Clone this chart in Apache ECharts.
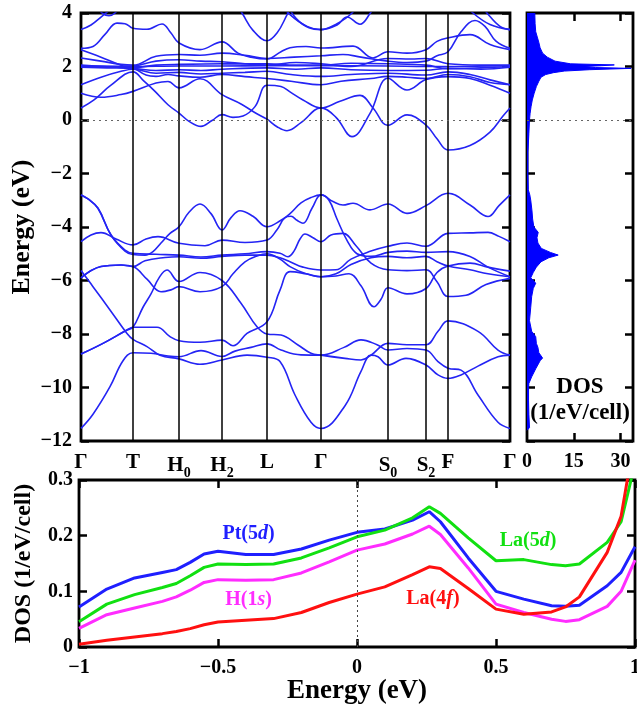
<!DOCTYPE html>
<html>
<head>
<meta charset="utf-8">
<script src="https://cdn.jsdelivr.net/npm/echarts@6/dist/echarts.min.js"></script>
<style>
  html, body { margin: 0; padding: 0; background: #fff; }
  #chart { width: 637px; height: 704px; }
</style>
</head>
<body>
<div id="chart"></div>
<script>
// k-path positions of the high-symmetry points and their labels
const kTicks = [0, 52, 98, 141, 186, 240, 307, 345, 367, 429];
const kLabels = ['Γ', 'T', 'H{s|0}', 'H{s|2}', 'L', 'Γ', 'S{s|0}', 'S{s|2}', 'F', 'Γ'];

// valence bands [k, E]
const bandA = [[0,-11.53],[12,-11.0],[29,-9.97],[42,-9.0],[52,-8.7],[70,-8.72],[87,-8.82],[98,-8.85],[120,-8.62],[141,-8.84],[154,-8.64],[170,-8.5],[186,-8.37],[200,-8.6],[220,-8.78],[240,-8.79],[263,-8.5],[280,-8.22],[296,-8.4],[307,-8.6],[326,-8.54],[345,-8.6],[357,-9.03],[367,-9.28],[380,-9.35],[397,-10.28],[417,-11.3],[429,-11.53]];
const bandB = [[0,-8.75],[22,-8.35],[46,-7.85],[52,-7.75],[76,-7.75],[89,-8.1],[98,-8.25],[119,-8.31],[141,-8.23],[152,-8.44],[166,-7.98],[186,-7.54],[199,-6.36],[209,-5.67],[225,-5.75],[240,-5.86],[255,-5.75],[270,-5.4],[290,-5.15],[307,-5.1],[326,-5.15],[345,-5.1],[356,-5.3],[367,-5.46],[389,-5.6],[407,-5.75],[429,-5.86]];
const bandC = [[0,-5.63],[12,-6.23],[29,-7.1],[46,-7.98],[52,-8.2],[66,-8.47],[79,-8.79],[98,-8.93],[119,-9.13],[141,-8.97],[166,-8.79],[186,-8.87],[199,-9.03],[214,-10.28],[230,-11.3],[240,-11.53],[264,-10.68],[280,-9.4],[290,-8.79],[297,-8.85],[307,-9.16],[325,-8.91],[345,-9.16],[357,-9.53],[367,-9.66],[380,-9.53],[397,-9.2],[417,-8.85],[429,-8.79]];
const bandE = [[0,-8.75],[22,-8.35],[46,-7.85],[52,-7.75],[62,-7.0],[70,-6.5],[78,-5.9],[86,-5.61],[98,-6.04],[119,-5.7],[141,-6.0],[160,-6.85],[176,-7.73],[186,-8.0],[200,-8.04],[217,-8.41],[230,-8.72],[240,-8.79],[264,-8.91],[280,-8.97],[290,-8.79],[307,-8.35],[326,-8.4],[345,-8.4],[357,-7.9],[367,-7.51],[397,-7.9],[417,-8.6],[429,-8.79]];
const bandG = [[0,-5.9],[20,-5.48],[40,-5.42],[52,-5.48],[66,-5.95],[80,-6.42],[90,-6.35],[98,-6.23],[119,-6.42],[141,-6.23],[152,-5.75],[164,-5.3],[176,-5.08],[186,-5.0],[199,-5.2],[209,-5.48],[225,-5.75],[240,-5.86],[255,-5.83],[268,-5.75],[280,-6.2],[293,-6.98],[300,-6.7],[307,-6.27],[326,-6.5],[345,-6.3],[356,-5.7],[367,-5.46],[389,-5.35],[407,-5.5],[429,-5.65]];
const bandV3 = [[0,-5.9],[20,-5.48],[40,-5.42],[52,-5.48],[64,-5.26],[84,-5.14],[98,-5.11],[120,-5.17],[141,-5.1],[164,-5.05],[186,-5.05],[199,-5.15],[209,-5.3],[222,-5.5],[240,-5.61],[255,-5.6],[270,-5.2],[290,-4.9],[307,-4.72],[326,-4.6],[345,-4.72],[367,-4.24],[389,-4.22],[407,-4.2],[418,-4.35],[429,-4.55]];
const bandV1 = [[0,-2.8],[7,-2.95],[17,-3.3],[30,-4.3],[44,-4.86],[52,-4.98],[75,-5.02],[98,-5.05],[120,-5.12],[141,-5.05],[164,-5.0],[186,-4.92],[199,-4.98],[207,-5.11],[213,-4.9],[219,-4.45],[224,-4.26],[232,-4.4],[240,-4.55],[250,-4.3],[262,-4.24],[275,-4.7],[290,-5.35],[307,-5.6],[326,-5.63],[345,-5.6],[356,-6.05],[367,-6.6],[385,-6.55],[405,-6.15],[429,-5.92]];
const bandP = [[0,-2.8],[7,-2.95],[17,-3.3],[30,-4.3],[44,-4.9],[52,-5.03],[64,-5.05],[72,-4.92],[80,-4.6],[89,-4.24],[98,-3.99],[108,-3.45],[119,-3.14],[130,-3.5],[141,-4.11],[150,-3.65],[159,-3.39],[172,-3.6],[186,-3.99],[200,-3.75],[209,-3.5],[220,-3.1],[230,-2.9],[240,-2.8],[252,-3.05],[262,-3.18],[272,-3.11],[289,-3.36],[307,-3.14],[326,-3.49],[345,-3.2],[367,-2.74],[389,-3.18],[407,-3.61],[418,-3.2],[429,-2.8]];
const bandV2 = [[0,-4.55],[10,-4.3],[20,-4.21],[35,-4.45],[52,-4.67],[65,-4.45],[77,-4.36],[98,-4.61],[124,-4.7],[141,-4.49],[164,-4.58],[186,-4.49],[196,-4.1],[204,-3.65],[210,-3.6],[216,-3.75],[222,-3.86],[231,-3.3],[240,-2.8],[248,-3.0],[256,-3.7],[266,-4.5],[276,-5.0],[290,-5.1],[307,-4.95],[326,-4.9],[345,-4.95],[367,-4.92],[389,-5.1],[407,-5.5],[429,-5.86]];

// conduction bands [k, E]
const bandC1 = [[0,0.45],[13,0.75],[30,1.3],[52,1.8],[63,1.45],[74,1.07],[87,0.57],[98,0.26],[108,-0.05],[120,-0.24],[131,-0.02],[141,0.2],[152,0.1],[162,0.15],[174,0.5],[186,1.3],[200,1.25],[209,1.05],[222,0.75],[240,0.45],[259,0.7],[279,0.92],[292,0.45],[307,-0.2],[326,0.19],[345,-0.19],[356,-0.7],[367,-1.12],[389,-0.95],[409,-0.45],[422,0.15],[429,0.45]];
const bandC2 = [[0,1.0],[20,0.85],[40,0.95],[52,1.07],[75,1.38],[87,1.44],[98,1.2],[119,1.54],[141,0.95],[160,0.6],[175,0.25],[186,0.03],[196,-0.25],[206,-0.4],[220,-0.1],[240,0.45],[255,0.1],[271,-0.62],[289,0.25],[307,1.56],[326,1.12],[345,1.51],[367,1.62],[389,1.55],[409,1.3],[429,1.0]];
const bandC3 = [[0,1.32],[20,1.6],[40,1.82],[52,1.9],[75,1.75],[98,1.78],[120,1.72],[141,1.75],[164,1.78],[186,1.82],[210,1.7],[240,1.63],[270,1.7],[307,1.75],[345,1.68],[367,1.8],[389,1.7],[409,1.5],[429,1.32]];
const bandF1 = [[0,2.03],[52,2.0],[98,2.02],[141,2.02],[186,2.03],[240,2.03],[307,2.02],[345,2.0],[367,2.0],[429,2.03]];
const bandF2 = [[0,2.0],[26,1.98],[52,1.96],[75,2.05],[98,2.08],[141,2.1],[186,2.1],[215,2.05],[240,2.05],[270,2.12],[307,2.1],[345,2.05],[367,1.92],[400,1.95],[429,2.0]];
const bandF3 = [[0,1.97],[26,1.95],[52,1.93],[75,1.85],[98,1.88],[120,1.85],[141,1.9],[186,1.95],[215,1.9],[240,1.95],[270,1.88],[307,1.85],[345,1.86],[367,1.93],[400,1.9],[429,1.97]];
const bandF4 = [[0,2.05],[26,2.0],[52,2.02],[75,2.2],[98,2.25],[120,2.2],[141,2.18],[164,2.1],[186,2.05],[215,2.15],[240,2.1],[270,2.0],[307,2.3],[330,2.28],[345,2.3],[367,2.1],[400,2.05],[429,2.05]];
const bandL2 = [[0,2.63],[20,2.35],[40,2.05],[52,1.95],[65,1.68],[75,1.63],[87,1.7],[98,1.65],[119,1.6],[141,1.7],[164,1.62],[186,1.55],[210,1.45],[240,1.32],[260,1.45],[290,1.55],[307,1.63],[326,1.6],[345,1.55],[367,1.7],[389,1.62],[409,1.4],[429,1.32]];
const bandU1 = [[0,2.32],[20,2.2],[40,2.08],[52,2.05],[75,2.38],[98,2.45],[119,2.42],[141,2.5],[164,2.42],[186,2.3],[213,2.35],[240,2.4],[262,2.45],[280,2.35],[307,2.2],[326,2.15],[345,2.2],[356,2.4],[367,2.55],[380,3.3],[394,3.72],[404,3.5],[415,2.95],[429,2.68]];
const bandT3 = [[0,2.68],[12,2.75],[24,3.2],[36,3.62],[44,3.6],[52,3.43],[66,3.39],[81,3.59],[90,3.25],[98,2.88],[119,2.63],[141,2.92],[157,2.5],[170,2.35],[186,2.28],[200,2.55],[209,2.7],[225,2.75],[240,2.69],[272,2.76],[292,2.32],[307,2.55],[326,2.5],[345,2.63],[356,2.94],[367,3.07],[389,3.19],[409,2.82],[429,2.63]];
const bandT1 = [[0,3.38],[10,3.55],[20,3.85],[28,4.1],[40,4.6]];
const bandT2 = [[14,4.4],[21,4.0],[28,3.9],[34,4.0],[42,4.4]];
const bandT5 = [[150,4.6],[161,4.0],[172,3.35],[186,2.96],[196,3.25],[206,3.93],[214,4.5]];
const bandT4a = [[196,4.5],[209,3.94],[226,3.5],[240,3.38],[256,3.6],[271,4.0],[280,4.5]];
const bandT4b = [[205,4.4],[215,3.8],[228,3.45],[240,3.38],[256,3.55],[266,3.85],[279,3.58],[289,3.98],[296,4.4]];
const bandT6a = [[380,4.5],[392,4.0],[409,3.57],[429,3.38]];
const bandT6b = [[396,4.5],[406,4.0],[419,3.5],[429,3.38]];

const bands = [bandA, bandB, bandC, bandE, bandG, bandV3, bandV1, bandP, bandV2,
  bandC1, bandC2, bandC3, bandF1, bandF2, bandF3, bandF4, bandL2, bandU1, bandT3,
  bandT1, bandT2, bandT5, bandT4a, bandT4b, bandT6a, bandT6b];

// total DOS (1/eV/cell) against energy (eV)
const dosE = [-11.6,-11.5,-11.0,-10.5,-10.0,-9.85,-9.6,-9.3,-9.0,-8.9,-8.7,-8.5,-8.35,-8.1,-7.9,-7.5,-7.0,-6.6,-6.3,-6.1,-5.9,-5.7,-5.5,-5.3,-5.15,-5.05,-4.95,-4.8,-4.6,-4.4,-4.2,-4.0,-3.7,-3.4,-3.0,-2.8,-2.6,-2.0,-1.2,-0.5,0,0.25,0.5,0.75,1.0,1.25,1.45,1.6,1.7,1.77,1.83,1.88,1.93,1.96,2.0,2.03,2.06,2.1,2.2,2.35,2.5,2.7,2.9,3.1,3.3,3.6,4.0];
const dosV = [0,0.8,0.6,0.5,0.5,0.6,1.5,2.8,4.2,5.0,3.8,3.5,3.0,2.8,1.5,0.8,1.2,1.5,2.0,2.8,1.2,2.0,3.0,4.5,7.0,10.0,7.5,4.6,3.5,3.2,3.6,2.2,1.8,1.6,1.2,0.9,0.4,0.3,0.3,0.6,0.8,1.0,1.3,1.7,2.3,3.0,3.8,4.5,6.0,8.5,12,20,33.4,22,18,24,28,14,9,6.5,5.0,4.2,3.8,3.3,2.8,2.6,2.5];

// projected DOS near the Fermi level
const pdosE = [-1,-0.9,-0.8,-0.7,-0.65,-0.6,-0.55,-0.5,-0.4,-0.3,-0.2,-0.1,0,0.1,0.2,0.26,0.3,0.4,0.5,0.6,0.7,0.75,0.8,0.9,0.95,1.0];
const pt5d = [0.072,0.104,0.124,0.134,0.139,0.152,0.167,0.172,0.166,0.166,0.176,0.192,0.206,0.212,0.228,0.243,0.225,0.16,0.1,0.086,0.074,0.073,0.075,0.11,0.134,0.18];
const la5d = [0.0455,0.077,0.094,0.107,0.114,0.128,0.143,0.149,0.148,0.149,0.16,0.178,0.198,0.21,0.232,0.252,0.24,0.196,0.155,0.157,0.148,0.146,0.149,0.188,0.225,0.33];
const h1s = [0.0335,0.058,0.07,0.082,0.09,0.102,0.116,0.121,0.12,0.121,0.133,0.153,0.174,0.185,0.203,0.217,0.202,0.142,0.077,0.062,0.05,0.046,0.049,0.073,0.1,0.156];
const la4f = [0.005,0.012,0.018,0.024,0.028,0.033,0.04,0.045,0.048,0.051,0.062,0.08,0.095,0.108,0.13,0.144,0.141,0.105,0.068,0.059,0.063,0.072,0.09,0.17,0.235,0.38];

const FONT = 'Liberation Serif';
const txt = { fontFamily: FONT, fontWeight: 'bold', color: '#000' };
const tick = { show: true, inside: true, length: 8, lineStyle: { color: '#000', width: 2.5 } };
const noLine = { show: false, onZero: false };
const bandColor = '#2424f4';
const minus = (v) => String(v).replace('-', '\u2212');

const chart = echarts.init(document.getElementById('chart'), null, { renderer: 'canvas' });

const bandSeries = bands.map((b, i) => ({
  type: 'line',
  xAxisIndex: 0,
  yAxisIndex: 0,
  data: b,
  symbol: 'none',
  smooth: 0.4,
  lineStyle: { color: bandColor, width: 1.6 },
  silent: true,
  z: 3,
  markLine: i === 0 ? {
    symbol: ['none', 'none'],
    silent: true,
    label: { show: false },
    animation: false,
    data: kTicks.slice(1, -1).map((k) => ({ xAxis: k, lineStyle: { color: '#000', width: 1.5, type: 'solid' } }))
      .concat([{ yAxis: 0, lineStyle: { color: '#666', width: 1, type: [2, 4] } }])
  } : undefined
}));

function pdosLine(vals, color, label, at) {
  return {
    type: 'line',
    xAxisIndex: 3,
    yAxisIndex: 4,
    data: pdosE.map((e, i) => [e, vals[i]]),
    symbol: 'none',
    lineStyle: { color: color, width: 3 },
    silent: true,
    markPoint: {
      symbol: 'circle',
      symbolSize: 1,
      itemStyle: { color: 'rgba(0,0,0,0)' },
      silent: true,
      animation: false,
      label: {
        show: true, position: 'inside', formatter: label,
        fontFamily: FONT, fontWeight: 'bold', fontSize: 20, color: color,
        rich: { i: { fontFamily: FONT, fontWeight: 'bold', fontStyle: 'italic', fontSize: 20, color: color } }
      },
      data: [{ coord: at }]
    }
  };
}

const gridBase = { show: true, borderColor: '#000', borderWidth: 2.8, backgroundColor: 'transparent', containLabel: false, outerBoundsMode: 'none' };

const option = {
  animation: false,
  backgroundColor: '#fff',
  grid: [
    { ...gridBase, left: 81, top: 13, width: 429, height: 428 },
    { ...gridBase, left: 527, top: 13, width: 106, height: 428 },
    { ...gridBase, left: 79, top: 480, width: 556, height: 167 }
  ],
  xAxis: [
    {
      gridIndex: 0, type: 'value', min: 0, max: 429,
      axisLine: noLine, axisTick: { show: false }, splitLine: { show: false },
      axisLabel: {
        customValues: kTicks,
        formatter: (v) => kLabels[kTicks.indexOf(v)],
        margin: 11, fontSize: 21, ...txt,
        rich: { s: { fontSize: 14, ...txt, padding: [14, 0, 0, 0] } }
      }
    },
    {
      gridIndex: 1, type: 'value', min: 0, max: 34,
      axisLine: noLine, splitLine: { show: false },
      axisTick: { ...tick, customValues: [15, 30] },
      axisLabel: { customValues: [0, 15, 30], margin: 11, fontSize: 20, ...txt }
    },
    {
      gridIndex: 1, type: 'value', min: 0, max: 34, position: 'top',
      axisLine: noLine, splitLine: { show: false },
      axisTick: { ...tick, customValues: [15, 30] },
      axisLabel: { show: false }
    },
    {
      gridIndex: 2, type: 'value', min: -1, max: 1, interval: 0.5,
      axisLine: noLine, splitLine: { show: false }, axisTick: tick,
      axisLabel: { margin: 11, fontSize: 20, ...txt, formatter: minus },
      name: 'Energy (eV)', nameLocation: 'middle', nameGap: 31, nameMoveOverlap: false,
      nameTextStyle: { fontSize: 27, ...txt }
    },
    {
      gridIndex: 2, type: 'value', min: -1, max: 1, interval: 0.5, position: 'top',
      axisLine: noLine, splitLine: { show: false }, axisTick: tick, axisLabel: { show: false }
    }
  ],
  yAxis: [
    {
      gridIndex: 0, type: 'value', min: -12, max: 4, interval: 2,
      axisLine: noLine, splitLine: { show: false }, axisTick: tick,
      axisLabel: { margin: 9, fontSize: 20, ...txt, formatter: minus },
      name: 'Energy (eV)', nameLocation: 'middle', nameGap: 46, nameMoveOverlap: false,
      nameTextStyle: { fontSize: 26, ...txt }
    },
    {
      gridIndex: 0, type: 'value', min: -12, max: 4, interval: 2, position: 'right',
      axisLine: noLine, splitLine: { show: false }, axisTick: tick, axisLabel: { show: false }
    },
    {
      gridIndex: 1, type: 'value', min: -12, max: 4, interval: 2,
      axisLine: noLine, splitLine: { show: false }, axisTick: tick, axisLabel: { show: false }
    },
    {
      gridIndex: 1, type: 'value', min: -12, max: 4, interval: 2, position: 'right',
      axisLine: noLine, splitLine: { show: false }, axisTick: tick, axisLabel: { show: false }
    },
    {
      gridIndex: 2, type: 'value', min: 0, max: 0.3, interval: 0.1,
      axisLine: noLine, splitLine: { show: false }, axisTick: tick,
      axisLabel: { margin: 6, fontSize: 20, ...txt },
      name: 'DOS (1/eV/cell)', nameLocation: 'middle', nameGap: 43, nameMoveOverlap: false,
      nameTextStyle: { fontSize: 24, ...txt }
    },
    {
      gridIndex: 2, type: 'value', min: 0, max: 0.3, interval: 0.1, position: 'right',
      axisLine: noLine, splitLine: { show: false }, axisTick: tick, axisLabel: { show: false }
    }
  ],
  graphic: [
    {
      type: 'text', x: 580, y: 374, z: 10,
      style: { text: 'DOS\n(1/eV/cell)', fill: '#000', font: 'bold 23px "Liberation Serif"', align: 'center', lineHeight: 26 }
    }
  ],
  series: bandSeries.concat([
    {
      type: 'custom',
      xAxisIndex: 1,
      yAxisIndex: 2,
      data: dosE.map((e, i) => [dosV[i], e]),
      silent: true,
      renderItem: (params, api) => {
        if (params.dataIndex !== 0) return null;
        const pts = [api.coord([0, dosE[0]])];
        dosE.forEach((e, i) => pts.push(api.coord([dosV[i], e])));
        pts.push(api.coord([0, dosE[dosE.length - 1]]));
        return { type: 'polygon', shape: { points: pts }, style: { fill: '#0000ff' } };
      }
    },
    {
      type: 'line',
      xAxisIndex: 1,
      yAxisIndex: 2,
      data: dosE.map((e, i) => [dosV[i], e]),
      symbol: 'none',
      lineStyle: { color: '#0000ff', width: 1 },
      silent: true,
      markLine: {
        symbol: ['none', 'none'], silent: true, label: { show: false }, animation: false,
        data: [{ yAxis: 0, lineStyle: { color: '#666', width: 1, type: [2, 4] } }]
      }
    },
    Object.assign(pdosLine(pt5d, '#1f1fff', 'Pt(5{i|d})', [-0.39, 0.203]), {
      markLine: {
        symbol: ['none', 'none'], silent: true, label: { show: false }, animation: false,
        data: [{ xAxis: 0, lineStyle: { color: '#444', width: 1, type: [2, 3] } }]
      }
    }),
    pdosLine(la5d, '#11e011', 'La(5{i|d})', [0.615, 0.19]),
    pdosLine(h1s, '#ff2cff', 'H(1{i|s})', [-0.39, 0.084]),
    pdosLine(la4f, '#ff1010', 'La(4{i|f})', [0.273, 0.086])
  ])
};

chart.setOption(option);
window.onresize = function () { chart.resize(); };
</script>
</body>
</html>
